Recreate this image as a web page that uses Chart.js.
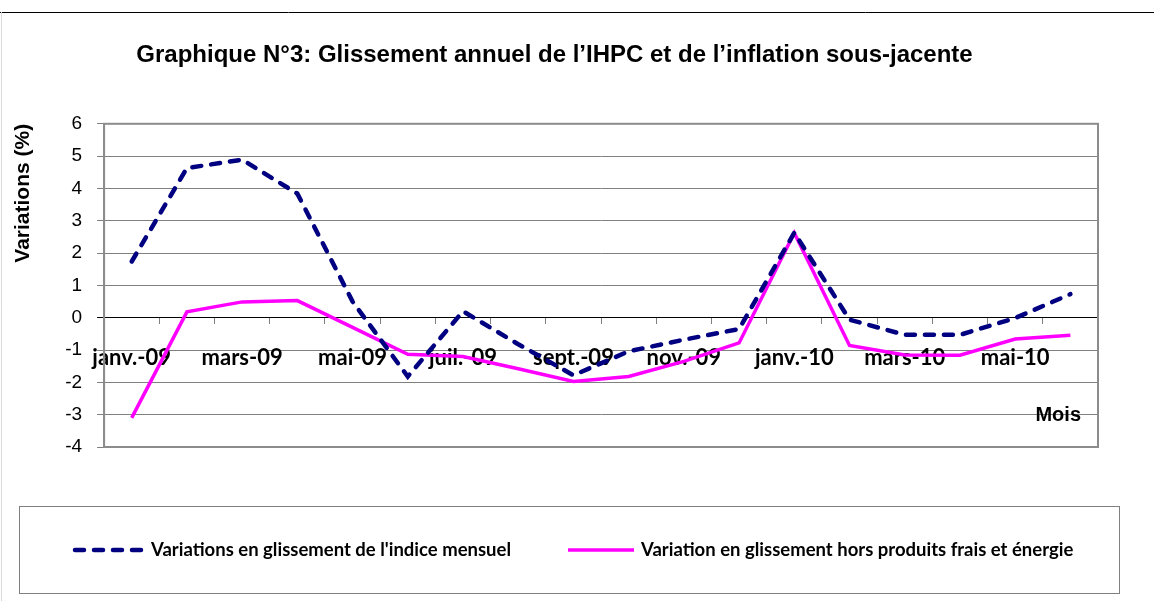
<!DOCTYPE html>
<html>
<head>
<meta charset="utf-8">
<script src="https://cdn.jsdelivr.net/npm/chart.js@4"></script>
<style>
  html, body { margin: 0; padding: 0; background: #fff; }
  #wrap { width: 1154px; height: 601px; }
</style>
</head>
<body>
<div id="wrap"><canvas id="graphique"></canvas></div>
<script>
// mois (une étiquette sur deux est affichée)
const mois = ['janv.-09', 'févr.-09', 'mars-09', 'avr.-09', 'mai-09', 'juin-09',
    'juil.-09', 'août-09', 'sept.-09', 'oct.-09', 'nov.-09', 'déc.-09',
    'janv.-10', 'févr.-10', 'mars-10', 'avr.-10', 'mai-10', 'juin-10'];

// glissement annuel de l'indice mensuel (%)
const glissementIndice = [1.74, 4.63, 4.89, 3.84, 0.5, -1.82, 0.2, -0.82, -1.78,
    -1.04, -0.68, -0.35, 2.63, -0.06, -0.53, -0.53, -0.01, 0.73];

// glissement hors produits frais et énergie (%)
const glissementSousJacent = [-3.1, 0.18, 0.49, 0.53, -0.3, -1.13, -1.2, -1.58, -1.97,
    -1.82, -1.35, -0.78, 2.62, -0.86, -1.15, -1.16, -0.66, -0.54];

const nomsSeries = ["Variations en glissement de l'indice mensuel",
    'Variation en glissement hors produits frais et énergie'];

const titre = 'Graphique N°3: Glissement annuel de l’IHPC et de l’inflation sous-jacente';
const titreAxeY = 'Variations (%)';
const titreAxeX = 'Mois';

const bleu = '#000080';
const rose = '#ff00ff';
const gris = '#8c8c8c';

// cadre, "Mois" et légende encadrée
const decor = {
    id: 'decor',
    beforeDraw(chart) {
        const ctx = chart.ctx;
        ctx.save();
        ctx.fillStyle = '#fff';
        ctx.fillRect(0, 0, chart.width, chart.height);
        ctx.strokeStyle = '#000';
        ctx.lineWidth = 1;
        ctx.beginPath();
        ctx.moveTo(0, 12.5);
        ctx.lineTo(chart.width, 12.5);
        ctx.stroke();
        ctx.strokeStyle = '#d9d9d9';
        ctx.beginPath();
        ctx.moveTo(1.5, 12);
        ctx.lineTo(1.5, chart.height);
        ctx.stroke();
        ctx.restore();
    },
    afterDraw(chart) {
        const ctx = chart.ctx;
        const area = chart.chartArea;
        ctx.save();
        // bordure de la zone de traçage
        ctx.strokeStyle = gris;
        ctx.lineWidth = 2;
        ctx.strokeRect(area.left, area.top, area.right - area.left, area.bottom - area.top);

        ctx.fillStyle = '#000';
        ctx.font = 'bold 20px "Liberation Sans", Arial, sans-serif';
        ctx.textAlign = 'right';
        ctx.textBaseline = 'middle';
        ctx.fillText(titreAxeX, area.right - 17, area.bottom - 32);

        // légende
        const boxTop = 506, boxBottom = 593, boxLeft = 19, boxRight = 1119;
        ctx.strokeStyle = '#7f7f7f';
        ctx.lineWidth = 1;
        ctx.strokeRect(boxLeft + 0.5, boxTop + 0.5, boxRight - boxLeft, boxBottom - boxTop);
        const yMid = (boxTop + boxBottom) / 2 + 0.5;
        const items = [
            { x: 73, len: 73, ds: chart.data.datasets[0] },
            { x: 566, len: 70, ds: chart.data.datasets[1] }
        ];
        ctx.font = 'bold 18.5px Lato, sans-serif';
        ctx.textAlign = 'left';
        items.forEach(it => {
            ctx.save();
            ctx.strokeStyle = it.ds.borderColor;
            ctx.lineWidth = it.ds.borderWidth;
            ctx.lineCap = it.ds.borderCapStyle || 'butt';
            ctx.setLineDash(it.ds.borderDash || []);
            ctx.beginPath();
            ctx.moveTo(it.x + 2, yMid);
            ctx.lineTo(it.x + it.len - 2, yMid);
            ctx.stroke();
            ctx.restore();
            ctx.fillText(it.ds.label, it.x + it.len + 5, yMid);
        });
        ctx.restore();
    }
};

new Chart(document.getElementById('graphique'), {
    type: 'line',
    data: {
        labels: mois,
        datasets: [
            {
                label: nomsSeries[0],
                data: glissementIndice,
                borderColor: bleu,
                backgroundColor: bleu,
                borderWidth: 4.5,
                borderDash: [9, 10],
                borderCapStyle: 'round',
                pointRadius: 0,
                tension: 0
            },
            {
                label: nomsSeries[1],
                data: glissementSousJacent,
                borderColor: rose,
                backgroundColor: rose,
                borderWidth: 3.5,
                pointRadius: 0,
                tension: 0
            }
        ]
    },
    options: {
        responsive: true,
        maintainAspectRatio: false,
        animation: false,
        layout: { padding: { left: 11, right: 56, top: 0, bottom: 154 } },
        plugins: {
            legend: { display: false },
            tooltip: { enabled: false },
            title: {
                display: true,
                text: titre,
                color: '#000',
                font: { family: '"Liberation Sans", Arial, sans-serif', size: 24, weight: 'bold' },
                padding: { top: 41, bottom: 54 }
            }
        },
        scales: {
            x: {
                position: { y: 0 },
                offset: true,
                grid: {
                    offset: true,
                    drawOnChartArea: false,
                    drawTicks: true,
                    tickLength: 6,
                    color: '#808080'
                },
                border: { display: true, color: '#000', width: 1 },
                ticks: {
                    autoSkip: false,
                    maxRotation: 0,
                    minRotation: 0,
                    padding: 21,
                    color: '#000',
                    font: { family: 'Lato, sans-serif', size: 22, weight: 'bold' },
                    callback: function (val, index) {
                        return index % 2 === 0 ? this.getLabelForValue(val) : '';
                    }
                }
            },
            y: {
                min: -4,
                max: 6,
                ticks: {
                    stepSize: 1,
                    padding: 15,
                    color: '#000',
                    font: { family: '"Liberation Sans", Arial, sans-serif', size: 19 }
                },
                grid: {
                    color: ctx => ctx.tick && ctx.tick.value === 0 ? '#000' : '#808080',
                    tickLength: 7,
                    drawTicks: true
                },
                border: { display: true, color: gris, width: 2 },
                title: {
                    display: true,
                    text: titreAxeY,
                    align: 'end',
                    color: '#000',
                    font: { family: '"Liberation Sans", Arial, sans-serif', size: 21, weight: 'bold' },
                    padding: { top: 0, bottom: 14 }
                }
            }
        }
    },
    plugins: [decor]
});
</script>
</body>
</html>
